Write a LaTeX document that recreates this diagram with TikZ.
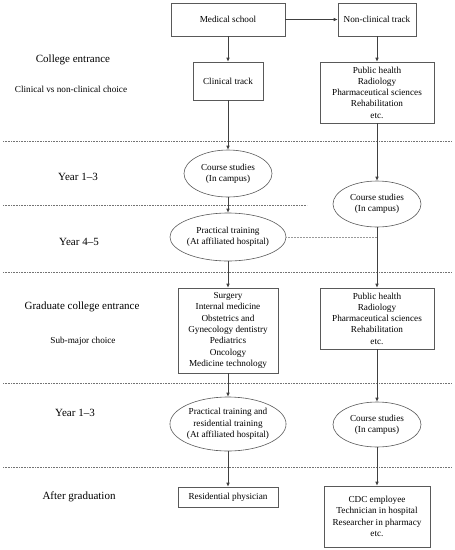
\documentclass[tikz,border=0pt]{standalone}
\usepackage{fontspec}
\setmainfont{Liberation Serif}
\usetikzlibrary{shapes.geometric,arrows.meta}
\tikzset{
  box/.style={draw=black!65, line width=0.6pt, inner sep=0pt, align=center, font=\fontsize{9.2}{11.3}\selectfont},
  oval/.style={ellipse, draw=black!65, line width=0.6pt, inner sep=0pt, align=center, font=\fontsize{9.2}{11.3}\selectfont},
  arr/.style={-{Latex[length=4pt,width=3.5pt]}, draw=black!75, line width=0.6pt},
  sepline/.style={densely dotted, draw=black!55, line width=0.6pt},
  linkline/.style={densely dotted, draw=black!40, line width=0.5pt},
  biglab/.style={font=\fontsize{11}{13}\selectfont},
  smalllab/.style={font=\fontsize{9.2}{11}\selectfont}
}
\begin{document}
\begin{tikzpicture}[x=1pt,y=-1pt]
\useasboundingbox (0,0) rectangle (455,550);
% separators
\coordinate (s1a) at (3,141); \coordinate (s1b) at (452,141);
\coordinate (s2a) at (3,205); \coordinate (s2b) at (307,205);
\coordinate (s3a) at (3,272); \coordinate (s3b) at (452,272);
\coordinate (s4a) at (3,383); \coordinate (s4b) at (452,383);
\coordinate (s5a) at (3,467); \coordinate (s5b) at (452,467);
\draw[sepline] (s1a) -- (s1b);
\draw[sepline] (s2a) -- (s2b);
\draw[sepline] (s3a) -- (s3b);
\draw[sepline] (s4a) -- (s4b);
\draw[sepline] (s5a) -- (s5b);
% left labels
\node[biglab] (l1) at (73,60) {College entrance};
\node[smalllab] (l2) at (71,89) {Clinical vs non-clinical choice};
\node[biglab] (l3) at (78,177) {Year 1--3};
\node[biglab] (l4) at (79,242) {Year 4--5};
\node[biglab] (l5) at (82,307) {Graduate college entrance};
\node[smalllab] (l6) at (83,341) {Sub-major choice};
\node[biglab] (l7) at (75,413) {Year 1--3};
\node[biglab] (l8) at (79,497) {After graduation};
% nodes
\node[box, minimum width=114pt, minimum height=33pt] (ms) at (228,19.5) {Medical school};
\node[box, minimum width=78pt, minimum height=33pt] (nc) at (377,19.5) {Non-clinical track};
\node[box, minimum width=70pt, minimum height=38pt] (ct) at (228,81) {Clinical track};
\node[box, minimum width=114pt, minimum height=61pt] (nl) at (377,92.5) {Public health\\Radiology\\Pharmaceutical sciences\\Rehabilitation\\etc.};
\node[oval, minimum width=88pt, minimum height=47pt] (cs1) at (228,173.5) {Course studies\\(In campus)};
\node[oval, minimum width=88pt, minimum height=46pt] (cs2) at (377,204) {Course studies\\(In campus)};
\node[oval, minimum width=111pt, minimum height=48pt] (pt) at (228,237) {Practical training\\(At affiliated hospital)};
\node[box, minimum width=100pt, minimum height=85pt] (sg) at (228,330.5) {Surgery\\Internal medicine\\Obstetrics and\\Gynecology dentistry\\Pediatrics\\Oncology\\Medicine technology};
\node[box, minimum width=114pt, minimum height=61pt] (nl2) at (377,318.5) {Public health\\Radiology\\Pharmaceutical sciences\\Rehabilitation\\etc.};
\node[oval, minimum width=111pt, minimum height=54pt] (prt) at (228,424) {Practical training and\\residential training\\(At affiliated hospital)};
\node[oval, minimum width=88pt, minimum height=45pt] (cs3) at (377,424.5) {Course studies\\(In campus)};
\node[box, minimum width=100pt, minimum height=20pt] (rp) at (228,497) {Residential physician};
\node[box, minimum width=106pt, minimum height=61pt] (cdc) at (377,516.5) {CDC employee\\Technician in hospital\\Researcher in pharmacy\\etc.};
% connectors
\draw[arr] (ms) -- (nc);
\draw[arr] (ms) -- (ct);
\draw[arr] (nc) -- (nl);
\draw[arr] (ct) -- (cs1);
\draw[arr] (cs1) -- (pt);
\draw[arr] (pt) -- (sg);
\draw[arr] (sg) -- (prt);
\draw[arr] (prt) -- (rp);
\draw[arr] (nl) -- (cs2);
\draw[arr] (cs2) -- (nl2);
\draw[arr] (nl2) -- (cs3);
\draw[arr] (cs3) -- (cdc);
\coordinate (lk) at (377,237);
\draw[linkline] (pt.east) -- (lk);
\end{tikzpicture}
\end{document}
